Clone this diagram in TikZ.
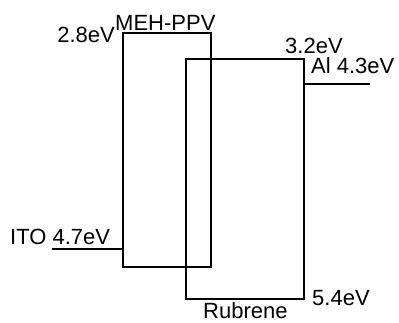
\documentclass[tikz,border=0pt]{standalone}
\usepackage{fontspec}
\setmainfont{Liberation Sans}
\usetikzlibrary{positioning}

\begin{document}
\begin{tikzpicture}[x=1pt, y=-1pt,
  level/.style={line width=2.8pt},
  lbl/.style={inner sep=0pt, font=\fontsize{22}{24}\selectfont}]
  \useasboundingbox (0,0) rectangle (399,322);
  % MEH-PPV band
  \coordinate (mehTL) at (123,33);
  \coordinate (mehBR) at (211,267);
  \draw[level] (mehTL) rectangle (mehBR);
  % Rubrene band
  \coordinate (rubTL) at (186,59);
  \coordinate (rubBR) at (304,299);
  \draw[level] (rubTL) rectangle (rubBR);
  % electrodes
  \coordinate (ito) at (52,249);
  \coordinate (al) at (370,84);
  \draw[level] (ito) -- (ito -| mehTL);
  \draw[level] (rubBR |- al) -- (al);
  % labels
  \node[lbl, anchor=base east] (mehLumo) at (115,42) {2.8eV};
  \node[lbl, anchor=base west] (mehName) at (115,30) {MEH-PPV};
  \node[lbl, anchor=base west] (rubLumo) at (285,53) {3.2eV};
  \node[lbl, anchor=base west] (alName) at (311,73) {Al 4.3eV};
  \node[lbl, anchor=base west] (itoName) at (10,244) {ITO 4.7eV};
  \node[lbl, anchor=base west] (rubHomo) at (312,305) {5.4eV};
  \node[lbl, anchor=base west] (rubName) at (203,318) {Rubrene};
\end{tikzpicture}
\end{document}
